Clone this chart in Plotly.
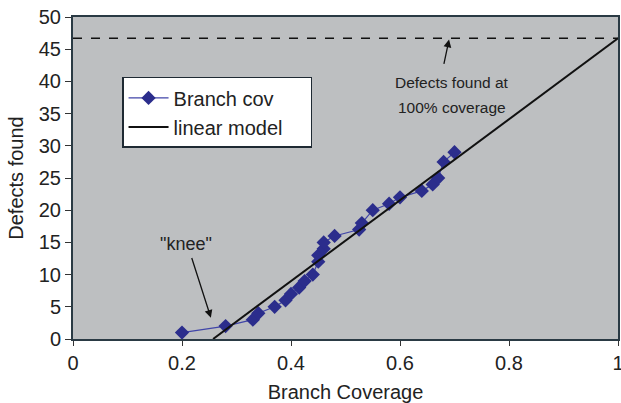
import plotly.graph_objects as go

# branch coverage vs defects found
coverage = [0.20, 0.28, 0.33, 0.34, 0.37, 0.39, 0.40, 0.415, 0.425, 0.44, 0.45, 0.45,
            0.46, 0.46, 0.48, 0.525, 0.53, 0.55, 0.58, 0.60, 0.64, 0.66, 0.67, 0.68, 0.70]
defects = [1, 2, 3, 4, 5, 6, 7, 8, 9, 10, 12, 13,
           14, 15, 16, 17, 18, 20, 21, 22, 23, 24, 25, 27.5, 29]

# linear model end points
model_x = [0.257, 1.0]
model_y = [0, 46.7]

total_defects = 46.7

x_ticks = [0, 0.2, 0.4, 0.6, 0.8, 1.0]
x_tick_text = ["0", "0.2", "0.4", "0.6", "0.8", "1"]
y_ticks = [0, 5, 10, 15, 20, 25, 30, 35, 40, 45, 50]

font_family = "Liberation Sans, Arial, sans-serif"
text_color = "#222222"

fig = go.Figure()

fig.add_trace(
    go.Scatter(
        x=coverage,
        y=defects,
        name="Branch cov",
        mode="lines+markers",
        line=dict(color="#4045A8", width=1.2),
        marker=dict(symbol="diamond", size=11, color="#2B2D8C"),
    )
)

fig.add_trace(
    go.Scatter(
        x=model_x,
        y=model_y,
        name="linear model\u00a0\u00a0\u00a0\u00a0",
        mode="lines",
        line=dict(color="#111111", width=2),
    )
)

fig.add_trace(
    go.Scatter(
        x=[0, 1.0],
        y=[total_defects, total_defects],
        mode="lines",
        line=dict(color="#111111", width=1.3, dash="dash"),
        showlegend=False,
        hoverinfo="skip",
    )
)

# knee callout
fig.add_annotation(
    x=0.253, y=3.3, ax=0.217, ay=12.8,
    xref="x", yref="y", axref="x", ayref="y",
    text="", showarrow=True, arrowhead=2, arrowsize=1.2, arrowwidth=1.3,
    arrowcolor="#111111",
)
fig.add_annotation(
    x=0.208, y=14.8, xref="x", yref="y",
    text='"knee"', showarrow=False,
    font=dict(family=font_family, size=18, color=text_color),
)

# 100% coverage callout
fig.add_annotation(
    x=0.69, y=46.5, ax=0.68, ay=42.5,
    xref="x", yref="y", axref="x", ayref="y",
    text="", showarrow=True, arrowhead=2, arrowsize=1.2, arrowwidth=1.3,
    arrowcolor="#111111",
)
fig.add_annotation(
    x=0.695, y=39.8, xref="x", yref="y",
    text="Defects found at", showarrow=False,
    font=dict(family=font_family, size=15.5, color=text_color),
)
fig.add_annotation(
    x=0.695, y=36.0, xref="x", yref="y",
    text="100% coverage", showarrow=False,
    font=dict(family=font_family, size=15.5, color=text_color),
)

fig.update_layout(
    width=621,
    height=403,
    margin=dict(l=73, r=1, t=17, b=64),
    paper_bgcolor="white",
    plot_bgcolor="#BDBFC1",
    font=dict(family=font_family, size=20, color=text_color),
    showlegend=True,
    legend=dict(
        x=0.09, y=0.814, xanchor="left", yanchor="top",
        bgcolor="white", bordercolor="#1F2A33", borderwidth=1.5,
        font=dict(size=20, color=text_color),
        tracegroupgap=0, itemwidth=40,
    ),
)

fig.update_xaxes(
    range=[0, 1.0],
    tickvals=x_ticks,
    ticktext=x_tick_text,
    ticks="outside",
    ticklen=5,
    tickcolor="#333333",
    tickfont=dict(size=20),
    ticklabeloverflow="allow",
    showgrid=False,
    zeroline=False,
    showline=True,
    linecolor="#2A3A44",
    linewidth=2,
    mirror=True,
    automargin=False,
    title=dict(text="Branch Coverage", font=dict(size=20)),
)

fig.update_yaxes(
    range=[0, 50],
    tickvals=y_ticks,
    ticks="outside",
    ticklen=6,
    tickcolor="#333333",
    tickfont=dict(size=20),
    showgrid=False,
    zeroline=False,
    showline=True,
    linecolor="#2A3A44",
    linewidth=2,
    mirror=True,
    title=dict(text="Defects found", standoff=10, font=dict(size=20)),
)

# drop the page's default body margin so the figure sits at the window's corner
fig.write_html(
    "out.html",
    config={"displayModeBar": False},
    post_script="document.body.style.margin='0px';",
)
